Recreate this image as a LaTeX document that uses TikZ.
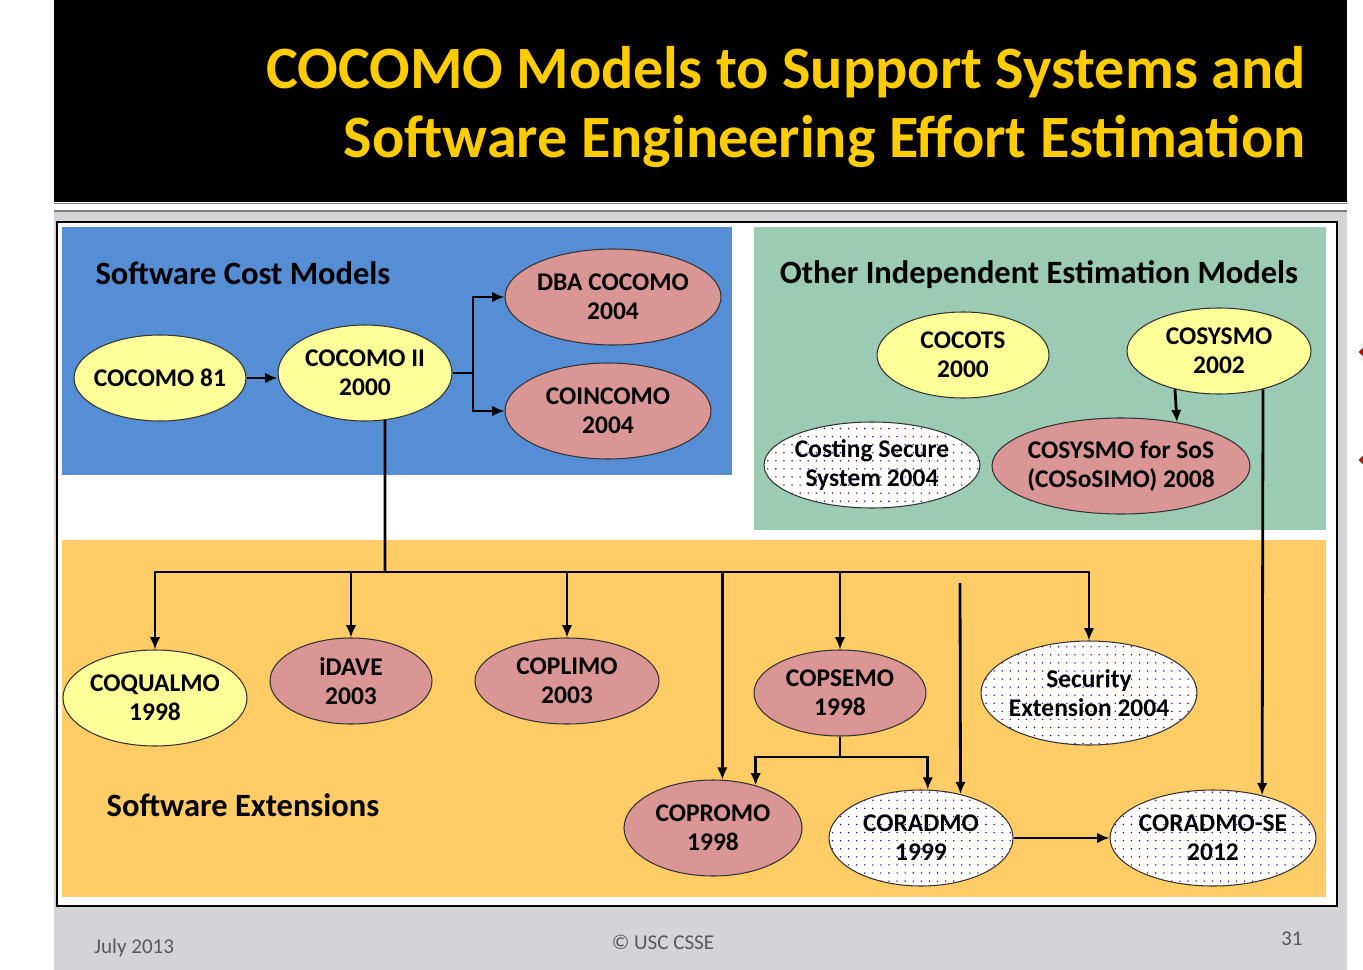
\documentclass[tikz,border=0pt]{standalone}
\usepackage{fontspec}
\setmainfont{Carlito}
\usetikzlibrary{shapes.geometric,arrows.meta,patterns.meta}
\definecolor{scmblue}{HTML}{558ED5}
\definecolor{oiemgreen}{HTML}{9BCBB4}
\definecolor{sweorange}{HTML}{FFCC66}
\definecolor{modelyellow}{HTML}{FFFF99}
\definecolor{modelpink}{HTML}{D99694}
\definecolor{titleyellow}{HTML}{FFCC00}
\definecolor{slidegray}{HTML}{D4D4D6}
\definecolor{footgray}{HTML}{595959}
\tikzdeclarepattern{name=thindots,type=uncolored,bounding box={(-2.3pt,-2.3pt) and (2.3pt,2.3pt)},tile size={(4.6pt,4.6pt)},code={\fill (0,0) circle (0.45pt);}}

\begin{document}
\begin{tikzpicture}[x=0.02cm, y=-0.02cm, line width=1.6pt, >={Latex[length=7pt,width=6pt]},
    model/.style 2 args={ellipse, draw=black!80, line width=0.6pt, inner sep=0pt, inner xsep=-4pt, minimum width=#1*0.02cm, minimum height=#2*0.02cm, align=center, font=\fontsize{14.5}{16.5}\selectfont\bfseries},
    yel/.style={fill=modelyellow},
    pnk/.style={fill=modelpink},
    dotfill/.style={preaction={fill=white}, pattern=thindots, pattern color=blue!75!black},
    sect/.style={font=\fontsize{18.5}{22}\selectfont\bfseries},
    ttl/.style={text=titleyellow, font=\fontsize{34.2}{40}\selectfont\bfseries, inner sep=0pt},
    foot/.style={text=footgray, font=\fontsize{12}{14}\selectfont, inner sep=0pt}]
    \useasboundingbox (0,0) rectangle (1363,970);
    \fill[slidegray] (54,211) rectangle (1347,970);
    \fill[black] (54,0) rectangle (1347,202);
    \draw[gray, line width=0.6pt] (54,203.5) -- (1347,203.5);
    \draw[gray, line width=0.6pt] (54,211) -- (1347,211);
    \foreach \y in {352,460}
        \filldraw[red!85!black, draw=black!70, line width=0.4pt] (1359,\y) -- (1366,\y-7) -- (1373,\y) -- (1366,\y+7) -- cycle;
    \draw[fill=white, line width=0.8pt] (57,222) rectangle (1337,906);
    \fill[scmblue] (62,227) rectangle (732,475);
    \fill[oiemgreen] (754,227) rectangle (1326,530);
    \fill[sweorange] (62,540) rectangle (1326,897);

    \node[ttl, anchor=base east] (t1) at (1307,88) {COCOMO Models to Support Systems and};
    \node[ttl, anchor=base east] (t2) at (1307,157) {Software Engineering Effort Estimation};
    \node[sect] (scm) at (243,273) {Software Cost Models};
    \node[sect] (oiem) at (1039,275) {Other Independent Estimation Models};
    \node[sect] (swe) at (243,805) {Software Extensions};

    \node[model={172}{86}, yel] (c81) at (160,378) {COCOMO 81};
    \node[model={174}{96}, yel] (c2) at (365,373) {COCOMO II\\2000};
    \node[model={216}{96}, pnk] (dba) at (613,297) {DBA COCOMO\\2004};
    \node[model={206}{96}, pnk] (coin) at (608,411) {COINCOMO\\2004};
    \node[model={172}{86}, yel] (cots) at (963,355) {COCOTS\\2000};
    \node[model={184}{86}, yel] (csy) at (1219,351) {COSYSMO\\2002};
    \node[model={216}{86}, dotfill] (css) at (872,465) {Costing Secure\\System 2004};
    \node[model={258}{96}, pnk] (cos) at (1121,466) {COSYSMO for SoS\\(COSoSIMO) 2008};
    \node[model={184}{96}, yel] (coq) at (155,698) {COQUALMO\\1998};
    \node[model={162}{86}, pnk] (dave) at (351,681) {iDAVE\\2003};
    \node[model={184}{86}, pnk] (cpl) at (567,681) {COPLIMO\\2003};
    \node[model={172}{86}, pnk] (cps) at (840,693) {COPSEMO\\1998};
    \node[model={216}{104}, dotfill] (sec) at (1089,693) {Security\\Extension 2004};
    \node[model={178}{96}, pnk] (cpr) at (713,828) {COPROMO\\1998};
    \node[model={184}{96}, dotfill] (crd) at (921,838) {CORADMO\\1999};
    \node[model={206}{96}, dotfill] (cse) at (1213,838) {CORADMO-SE\\2012};

    \coordinate (fork) at (473,373);
    \coordinate (bus) at (385,572);
    \coordinate (split) at (840,757);
    \coordinate (rad) at (960,583);
    \draw[->] (c81.east) -- (c81.east -| c2.west);
    \draw (c2) -- (fork);
    \draw[->] (fork) |- (dba);
    \draw[->] (fork) |- (coin);
    \draw (c2.293) -- (bus);
    \draw[->] (bus) -| (coq);
    \draw[->] (bus) -| (dave);
    \draw[->] (bus) -| (cpl);
    \draw[->] (bus) -| (cpr.79);
    \draw[->] (bus) -| (cps);
    \draw[->] (bus) -| (sec);
    \draw[->] (rad) -- (crd.48);
    \draw (cps) -- (split);
    \draw[->] (split) -| (cpr.45);
    \draw[->] (split) -| (crd.82);
    \draw[->] (csy.221) -- (cos.38);
    \draw[->] (csy.-41) -- (cse.41);
    \draw[->] (crd) -- (cse);

    \node[foot, anchor=base west] (date) at (93,953) {July 2013};
    \node[foot, anchor=base] (copy) at (663,949) {© USC CSSE};
    \node[foot, anchor=base east] (page) at (1304,945) {31};
\end{tikzpicture}
\end{document}
